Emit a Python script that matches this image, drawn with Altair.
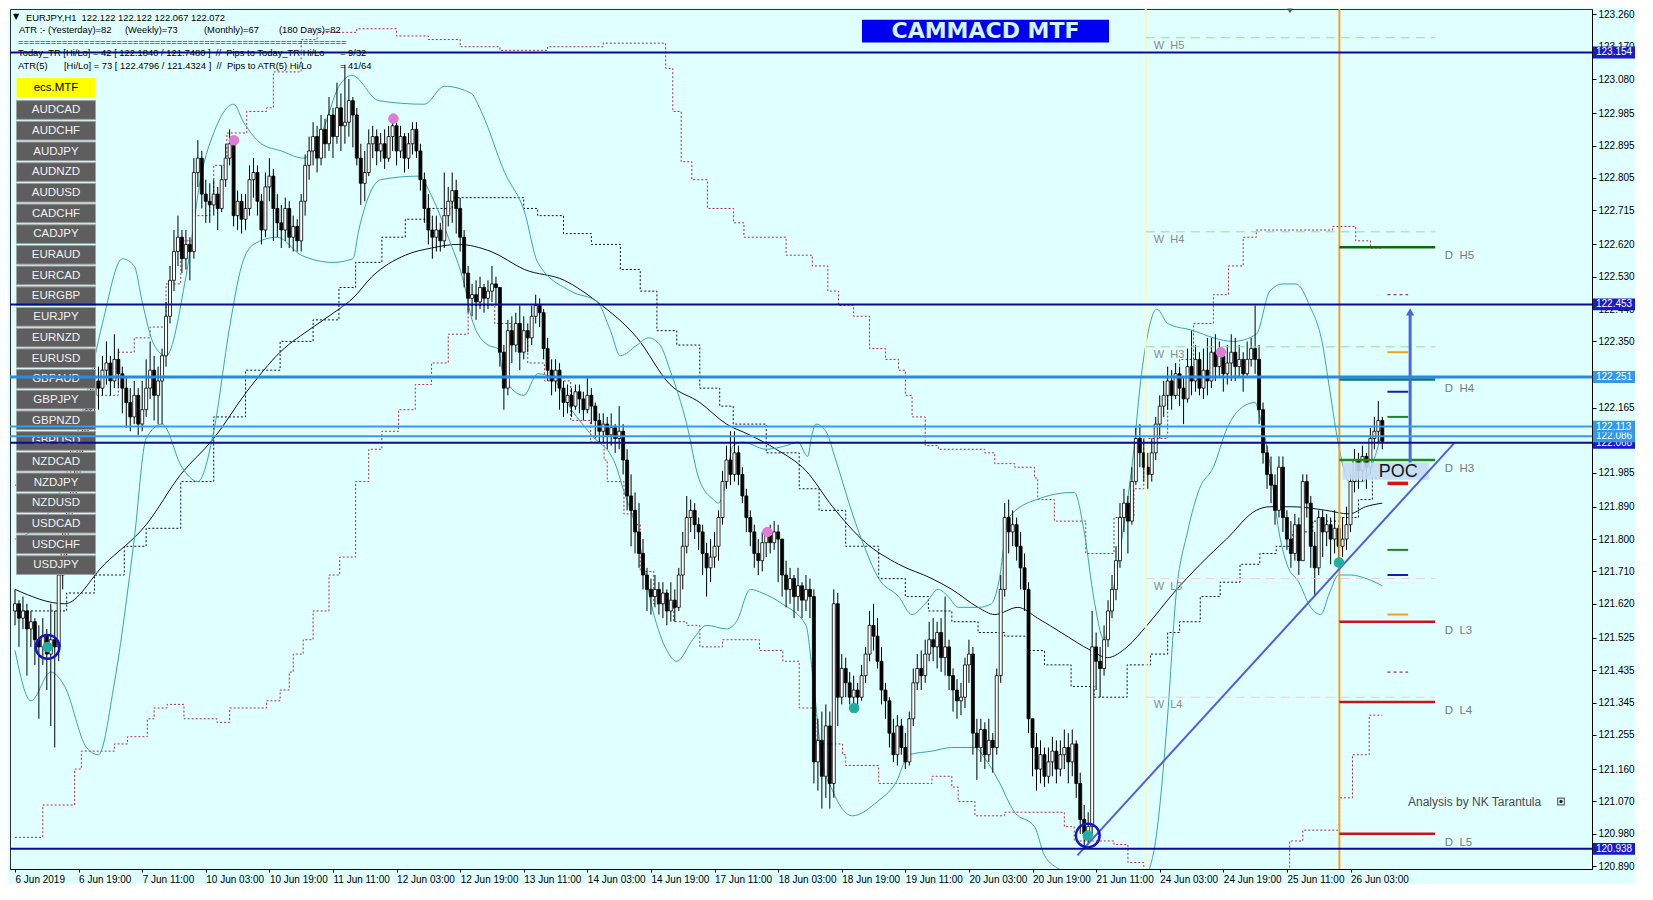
import altair as alt
import pandas as pd

# ---------------------------------------------------------------- layout
W, H = 1582, 860
REF_H = 873.0
XDOM = [0, W / 4.0]
YDOM = [120.882, 123.275]

# ---------------------------------------------------------------- data
x_labels = ["6 Jun 2019", "6 Jun 19:00", "7 Jun 11:00", "10 Jun 03:00", "10 Jun 19:00",
            "11 Jun 11:00", "12 Jun 03:00", "12 Jun 19:00", "13 Jun 11:00", "14 Jun 03:00",
            "14 Jun 19:00", "17 Jun 11:00", "18 Jun 03:00", "18 Jun 19:00", "19 Jun 11:00",
            "20 Jun 03:00", "20 Jun 19:00", "21 Jun 11:00", "24 Jun 03:00", "24 Jun 19:00",
            "25 Jun 11:00", "26 Jun 03:00"]
label_step = 16

y_ticks = [123.260, 123.170, 123.080, 122.985, 122.895, 122.805, 122.715, 122.620, 122.530,
           122.440, 122.350, 122.165, 121.985, 121.890, 121.800, 121.710, 121.620, 121.525,
           121.435, 121.345, 121.255, 121.160, 121.070, 120.980, 120.890]

first_open = 121.60
close = [
    121.62, 121.58, 121.60, 121.55, 121.57, 121.52, 121.50, 121.53, 121.48, 121.52, 121.50, 121.70,
    121.78, 121.85, 121.92, 121.98, 122.05, 122.10, 122.16, 122.20, 122.24, 122.22,
    122.27, 122.29, 122.24, 122.30, 122.26, 122.22, 122.18, 122.14, 122.20, 122.12, 122.16, 122.22, 122.27, 122.20, 122.24,
    122.31, 122.42, 122.52, 122.60, 122.64, 122.58, 122.62, 122.60,
    122.82, 122.86, 122.76, 122.74,
    122.73, 122.76, 122.72,
    122.80, 122.86, 122.90, 122.70,
    122.74, 122.69, 122.72,
    122.80, 122.82, 122.74, 122.66, 122.78, 122.81, 122.72,
    122.68, 122.66, 122.72, 122.64, 122.67, 122.63,
    122.74, 122.84, 122.88,
    122.92, 122.86, 122.94, 122.90, 122.98, 122.92, 123.00, 122.95, 122.96, 123.02, 122.98,
    122.86, 122.79, 122.82,
    122.90, 122.92, 122.88, 122.90, 122.86, 122.92, 122.95,
    122.88, 122.92, 122.86, 122.90, 122.94, 122.88,
    122.80, 122.72, 122.66,
    122.64, 122.66, 122.63,
    122.70, 122.74, 122.77, 122.72,
    122.64, 122.54, 122.47,
    122.48, 122.46, 122.50, 122.47, 122.49, 122.51, 122.50,
    122.32, 122.22,
    122.38, 122.34, 122.40, 122.32, 122.38, 122.36, 122.42, 122.45, 122.43,
    122.33, 122.27, 122.24, 122.27, 122.22, 122.18,
    122.20, 122.17, 122.21, 122.19, 122.16, 122.20, 122.17,
    122.13, 122.10, 122.12, 122.09, 122.11, 122.08, 122.10,
    122.02, 121.92, 121.88, 121.82,
    121.76, 121.70, 121.66,
    121.64, 121.66, 121.62, 121.65, 121.60, 121.63, 121.61,
    121.70, 121.78, 121.86,
    121.88, 121.84, 121.82,
    121.76, 121.72, 121.75, 121.78,
    121.86, 121.96,
    122.02, 121.98, 122.04, 121.98,
    121.92, 121.86, 121.82, 121.76, 121.74, 121.79,
    121.81, 121.79, 121.82, 121.80,
    121.70, 121.66, 121.69, 121.64, 121.67, 121.63, 121.66, 121.64,
    121.18,
    121.24, 121.14, 121.28, 121.12,
    121.62, 121.36,
    121.44, 121.40, 121.36, 121.38, 121.36, 121.42,
    121.48, 121.56, 121.53,
    121.46, 121.38, 121.35, 121.26,
    121.20, 121.28, 121.22, 121.18,
    121.30, 121.40, 121.44, 121.42, 121.48, 121.52, 121.50,
    121.54, 121.47, 121.50, 121.42,
    121.38, 121.35, 121.36, 121.45,
    121.48, 121.26,
    121.22, 121.27, 121.20, 121.24, 121.22,
    121.42, 121.66,
    121.86, 121.82, 121.84,
    121.78, 121.72, 121.66,
    121.30,
    121.22, 121.16, 121.20,
    121.14, 121.18, 121.21, 121.16, 121.20, 121.22, 121.18, 121.23,
    121.12, 121.02, 120.98, 121.00,
    121.50,
    121.46, 121.44,
    121.52, 121.60, 121.66, 121.74,
    121.86, 121.90, 121.85, 121.96,
    122.08, 122.04,
    122.00, 121.98, 122.04,
    122.12, 122.17, 122.20,
    122.24, 122.20, 122.26, 122.22, 122.19,
    122.28, 122.24, 122.30, 122.22, 122.27, 122.24,
    122.32, 122.28, 122.31, 122.26, 122.29, 122.32,
    122.28, 122.30, 122.26, 122.30, 122.33, 122.30,
    122.16, 122.04, 121.98, 121.95,
    121.88, 122.00, 121.86,
    121.80, 121.76, 121.84, 121.74,
    121.96, 121.90,
    121.78, 121.72, 121.86,
    121.82, 121.84, 121.80, 121.83,
    121.78, 121.80, 121.84,
    121.96, 122.02, 121.99, 122.03, 122.00,
    122.08, 122.10, 122.13, 122.072,
]
high = [
    121.66, 121.63, 121.64, 121.62, 121.60, 121.58, 121.56, 121.58, 121.55, 121.62, 121.60, 121.74,
    121.82, 121.90, 121.96, 122.03, 122.09, 122.14, 122.20, 122.25, 122.30, 122.28,
    122.31, 122.35, 122.31, 122.37, 122.33, 122.28, 122.25, 122.22, 122.24, 122.22, 122.24, 122.30, 122.35, 122.31, 122.28,
    122.33, 122.46, 122.56, 122.66, 122.70, 122.66, 122.66, 122.64,
    122.86, 122.91, 122.88, 122.80,
    122.79, 122.80, 122.78,
    122.84, 122.90, 122.94, 122.91,
    122.77, 122.76, 122.76,
    122.84, 122.86, 122.84, 122.76, 122.82, 122.86, 122.83,
    122.76, 122.73, 122.75, 122.74, 122.70, 122.69,
    122.76, 122.87, 122.92,
    122.96, 122.95, 122.98, 122.97, 123.03, 123.00, 123.07, 123.04, 123.12, 123.08, 123.03,
    123.00, 122.90, 122.88,
    122.94, 122.95, 122.94, 122.93, 122.94, 122.95, 122.98,
    122.96, 122.95, 122.93, 122.93, 122.96, 122.96,
    122.90, 122.82, 122.76,
    122.70, 122.70, 122.68,
    122.82, 122.78, 122.82, 122.80,
    122.75, 122.66, 122.56,
    122.51, 122.52, 122.53, 122.51, 122.52, 122.56, 122.53,
    122.50, 122.34,
    122.41, 122.42, 122.43, 122.45, 122.42, 122.40, 122.45, 122.48, 122.47,
    122.44, 122.36, 122.30, 122.30, 122.29, 122.24,
    122.23, 122.22, 122.23, 122.23, 122.21, 122.25, 122.22,
    122.18, 122.15, 122.15, 122.14, 122.15, 122.12, 122.17,
    122.12, 122.05, 121.98, 121.93,
    121.90, 121.80, 121.72,
    121.69, 121.70, 121.68, 121.68, 121.66, 121.68, 121.66,
    121.72, 121.82, 121.92,
    121.91, 121.90, 121.86,
    121.84, 121.79, 121.80, 121.82,
    121.88, 121.99,
    122.06, 122.10, 122.10, 122.06,
    122.00, 121.94, 121.88, 121.84, 121.80, 121.82,
    121.83, 121.84, 121.85, 121.84,
    121.80, 121.74, 121.72, 121.70, 121.72, 121.68, 121.70, 121.69,
    121.66,
    121.30, 121.32, 121.34, 121.32,
    121.66, 121.65,
    121.48, 121.47, 121.43, 121.42, 121.40, 121.45,
    121.50, 121.60, 121.62,
    121.58, 121.50, 121.40, 121.36,
    121.30, 121.31, 121.30, 121.26,
    121.32, 121.44, 121.48, 121.49, 121.52, 121.57, 121.58,
    121.57, 121.58, 121.64, 121.52,
    121.44, 121.41, 121.40, 121.47,
    121.52, 121.50,
    121.30, 121.30, 121.29, 121.30, 121.26,
    121.44, 121.70,
    121.90, 121.91, 121.88,
    121.86, 121.82, 121.76,
    121.68,
    121.30, 121.26, 121.24,
    121.22, 121.22, 121.25, 121.24, 121.24, 121.27, 121.26, 121.27,
    121.24, 121.15, 121.06, 121.04,
    121.60,
    121.54, 121.50,
    121.56, 121.63, 121.70, 121.78,
    121.90, 121.94, 121.92, 122.00,
    122.11, 122.12,
    122.08, 122.04, 122.08,
    122.14, 122.20, 122.24,
    122.28, 122.27, 122.29, 122.28, 122.25,
    122.33, 122.38, 122.34, 122.32, 122.33, 122.36,
    122.36, 122.37, 122.35, 122.33, 122.34, 122.37,
    122.36, 122.34, 122.32, 122.35, 122.36, 122.45,
    122.34, 122.18, 122.06, 122.03,
    121.98, 122.03, 122.03,
    121.88, 121.85, 121.87, 121.86,
    121.98, 121.98,
    121.92, 121.82, 121.88,
    121.88, 121.87, 121.86, 121.88,
    121.84, 121.86, 121.89,
    121.98, 122.05, 122.04, 122.06, 122.04,
    122.11, 122.14, 122.184, 122.14,
]
low = [
    121.56, 121.50, 121.55, 121.42, 121.50, 121.45, 121.30, 121.45, 121.38, 121.28, 121.22, 121.46,
    121.66, 121.74, 121.82, 121.88, 121.94, 122.02, 122.06, 122.12, 122.15, 122.16,
    122.20, 122.23, 122.20, 122.22, 122.22, 122.15, 122.11, 122.10, 122.12, 122.09, 122.10, 122.14, 122.19, 122.13, 122.12,
    122.12, 122.28, 122.40, 122.49, 122.56, 122.54, 122.55, 122.52,
    122.58, 122.78, 122.72, 122.68,
    122.68, 122.70, 122.66,
    122.71, 122.78, 122.84, 122.67,
    122.66, 122.65, 122.66,
    122.70, 122.75, 122.70, 122.62, 122.64, 122.74, 122.63,
    122.64, 122.61, 122.63, 122.61, 122.60, 122.60,
    122.60, 122.70, 122.80,
    122.84, 122.82, 122.84, 122.86, 122.88, 122.86, 122.90, 122.88, 122.90, 122.92, 122.89,
    122.84, 122.73, 122.74,
    122.81, 122.86, 122.84, 122.85, 122.83, 122.85, 122.88,
    122.84, 122.86, 122.82, 122.83, 122.87, 122.86,
    122.77, 122.68, 122.62,
    122.58, 122.60, 122.60,
    122.61, 122.67, 122.68, 122.65,
    122.60, 122.50, 122.43,
    122.42, 122.41, 122.44, 122.43, 122.44, 122.46, 122.45,
    122.28, 122.16,
    122.20, 122.29, 122.32, 122.27, 122.30, 122.32, 122.34, 122.40, 122.39,
    122.30, 122.24, 122.20, 122.21, 122.16, 122.14,
    122.15, 122.14, 122.16, 122.15, 122.13, 122.15, 122.12,
    122.08, 122.07, 122.07, 122.05, 122.06, 122.04, 122.05,
    121.98, 121.88, 121.78, 121.76,
    121.72, 121.66, 121.60,
    121.59, 121.61, 121.59, 121.58, 121.56, 121.57, 121.57,
    121.60, 121.66, 121.76,
    121.82, 121.80, 121.77,
    121.70, 121.64, 121.68, 121.72,
    121.74, 121.84,
    121.94, 121.95, 121.96, 121.95,
    121.90, 121.82, 121.78, 121.72, 121.70, 121.71,
    121.75, 121.76, 121.77, 121.68,
    121.64, 121.61, 121.62, 121.58, 121.60, 121.58, 121.60, 121.58,
    121.12,
    121.10, 121.05, 121.08, 121.05,
    121.08, 121.28,
    121.34, 121.36, 121.34, 121.33, 121.33, 121.35,
    121.40, 121.46, 121.49,
    121.44, 121.34, 121.30, 121.22,
    121.18, 121.17, 121.20, 121.16,
    121.17, 121.28, 121.38, 121.38, 121.40, 121.46, 121.46,
    121.44, 121.43, 121.42, 121.38,
    121.32, 121.30, 121.31, 121.33,
    121.40, 121.20,
    121.13, 121.18, 121.16, 121.18, 121.15,
    121.20, 121.40,
    121.64, 121.76, 121.78,
    121.74, 121.66, 121.60,
    121.26,
    121.14, 121.10, 121.12,
    121.11, 121.12, 121.14, 121.12, 121.14, 121.16, 121.12, 121.14,
    121.08, 120.98, 120.94, 120.95,
    120.98,
    121.38, 121.36,
    121.42, 121.50, 121.58, 121.63,
    121.72, 121.82, 121.76, 121.84,
    121.95, 122.00,
    121.96, 121.94, 121.96,
    122.02, 122.08, 122.14,
    122.16, 122.16, 122.19, 122.17, 122.12,
    122.18, 122.20, 122.21, 122.20, 122.19, 122.20,
    122.22, 122.24, 122.25, 122.21, 122.23, 122.24,
    122.24, 122.25, 122.21, 122.25, 122.28, 122.26,
    122.12, 122.01, 121.94, 121.90,
    121.84, 121.86, 121.82,
    121.77, 121.72, 121.74, 121.70,
    121.74, 121.86,
    121.72, 121.64, 121.70,
    121.75, 121.78, 121.73, 121.76,
    121.748, 121.75, 121.77,
    121.82, 121.93, 121.94, 121.96, 121.94,
    121.98, 122.05, 122.07, 122.05,
]

# indicator traces (bar, price)
bb_upper = [(0, 121.80), (6, 121.84), (12, 121.95), (18, 122.20), (22, 122.40), (27, 122.58), (30, 122.56),
            (32, 122.46), (35, 122.34), (38, 122.31), (43, 122.53), (47, 122.82), (50, 122.93), (55, 123.01),
            (57.5, 122.96), (62, 122.90), (67, 122.88), (72.5, 122.86), (77.5, 122.94), (81.5, 123.06),
            (84.8, 123.09), (91.5, 123.02), (103, 123.01), (108, 123.06), (114.8, 123.04), (117.3, 122.99),
            (123.2, 122.82), (128.2, 122.71), (131.5, 122.57), (139.8, 122.49), (146.5, 122.46),
            (149.8, 122.38), (152.3, 122.31), (156.5, 122.34), (159.4, 122.36), (162.3, 122.34),
            (164.8, 122.27), (169, 122.12), (172, 121.97), (175.7, 121.91), (177, 121.90), (178.5, 121.94),
            (180.7, 122.06), (183, 122.07), (189, 122.05), (194, 122.06), (197, 122.07), (199.4, 122.03),
            (200.5, 122.09), (201.5, 122.12), (204, 122.10), (206.5, 122.02), (210.7, 121.87), (214, 121.77),
            (217.3, 121.69), (222.3, 121.64), (225.7, 121.59), (229, 121.62), (232.3, 121.66), (234.8, 121.64),
            (237.3, 121.61), (242.3, 121.61), (245.7, 121.62), (247.5, 121.68), (250, 121.86), (257, 121.91),
            (266.5, 121.93), (269, 121.82), (271.5, 121.63), (274, 121.52), (276.5, 121.67), (279, 121.84),
            (281.5, 122.05), (283, 122.22), (284.8, 122.36), (287.3, 122.44), (290, 122.40), (296.5, 122.38),
            (301.5, 122.36), (306.5, 122.35), (312.3, 122.37), (315.7, 122.49), (319, 122.51), (322.3, 122.51),
            (325.7, 122.45), (329, 122.34), (330.7, 122.22), (333.2, 122.05), (335.7, 121.96), (339, 121.96),
            (343, 122.06), (344, 122.10)]
bb_lower = [(0, 121.49), (4, 121.35), (9, 121.43), (12.5, 121.39), (18, 121.22), (21, 121.20), (25, 121.40),
            (30, 121.80), (33, 122.08), (37, 122.12), (42, 122.00), (46, 121.96), (50, 122.10), (54, 122.39),
            (57, 122.56), (60, 122.62), (66, 122.64), (72, 122.59), (80, 122.57), (85, 122.58), (86.5, 122.66),
            (92, 122.80), (101.5, 122.81), (105, 122.75), (109, 122.64), (113, 122.51), (115, 122.41),
            (119, 122.34), (121.5, 122.33), (123, 122.25), (128, 122.20), (131.5, 122.26), (135, 122.25),
            (140, 122.16), (145, 122.09), (151, 122.01), (153, 121.94), (156.5, 121.82), (160.5, 121.60),
            (164, 121.49), (166.5, 121.46), (170.5, 121.52), (174, 121.56), (179, 121.55), (181.5, 121.57),
            (185, 121.66), (188, 121.65), (193, 121.62), (199, 121.56), (200.7, 121.42), (203, 121.19),
            (205.7, 121.10), (210.7, 121.03), (217, 121.07), (221.5, 121.12), (225, 121.20), (230.7, 121.21),
            (235.7, 121.22), (241.5, 121.22), (244, 121.19), (247.3, 121.13), (251.5, 121.04), (256.5, 121.00),
            (259, 120.92), (263, 120.88), (268, 120.86), (276, 120.85), (284, 120.86), (286.5, 120.93),
            (290, 121.31), (292, 121.63), (295, 121.82), (298, 121.94), (301.5, 122.00), (305, 122.11),
            (308, 122.16), (312, 122.18), (313, 122.15), (315.7, 122.01), (318, 121.82), (320, 121.73),
            (323, 121.68), (326, 121.61), (328.5, 121.59), (330.7, 121.65), (333, 121.70), (336, 121.70),
            (340, 121.69), (344, 121.67)]
ma_line = [(0, 121.66), (12.5, 121.62), (22.5, 121.73), (33, 121.84), (41.7, 121.98), (50, 122.08),
           (58.3, 122.21), (66.7, 122.32), (75, 122.39), (81.5, 122.44), (85, 122.47), (89.8, 122.53),
           (98.2, 122.59), (104.8, 122.61), (111.5, 122.62), (119.8, 122.60), (128.2, 122.55), (138.2, 122.52),
           (146.5, 122.46), (156.5, 122.36), (164.8, 122.23), (172.3, 122.18), (179, 122.12), (184.8, 122.09),
           (191.5, 122.05), (199, 121.99), (205.7, 121.89), (214, 121.79), (222.3, 121.73), (230.7, 121.69),
           (235.7, 121.66), (242.3, 121.61), (246.5, 121.59), (252.3, 121.61), (257.3, 121.58), (263.2, 121.54),
           (270.7, 121.49), (274.8, 121.47), (279.8, 121.50), (284.8, 121.56), (291.5, 121.65), (298.2, 121.73),
           (304.8, 121.80), (312.3, 121.88), (315.7, 121.89), (321.5, 121.89), (329.8, 121.88), (335.7, 121.87),
           (339.8, 121.89), (344, 121.90)]
mid_steps = [(0, 121.60), (13, 121.65), (20, 121.70), (27.5, 121.78), (33, 121.83), (41.7, 121.96),
             (50, 122.14), (58, 122.27), (66.7, 122.35), (75, 122.41), (81.5, 122.50), (85.7, 122.57),
             (92.3, 122.64), (98.2, 122.69), (104, 122.72), (110, 122.75), (120, 122.75), (128, 122.72),
             (131.5, 122.70), (138, 122.65), (145, 122.62), (152.3, 122.55), (157.3, 122.49), (161.5, 122.38),
             (166.5, 122.34), (172.3, 122.22), (177.3, 122.17), (180.7, 122.12), (189, 122.04), (197.3, 121.94),
             (202.3, 121.88), (209, 121.78), (217.3, 121.69), (224, 121.64), (229.8, 121.60), (235.7, 121.57),
             (242.3, 121.54), (249, 121.53), (254.8, 121.49), (259, 121.45), (265.7, 121.39), (271.5, 121.36),
             (276.5, 121.36), (279.8, 121.45), (285.7, 121.48), (290, 121.54), (293, 121.57), (298.2, 121.64),
             (303.2, 121.68), (308.2, 121.73), (313.2, 121.76), (317.3, 121.78), (321.5, 121.82), (326.5, 121.85),
             (333.2, 121.86), (338, 121.91), (341.5, 121.97), (344, 121.97)]
red_upper = [(0, 121.95), (10, 121.95), (14, 122.05), (20, 122.20), (26, 122.32), (30, 122.36), (34, 122.39),
             (38, 122.51), (41.7, 122.63), (45, 122.70), (49, 122.75), (50, 122.84), (53.3, 122.93), (58.3, 122.99),
             (63.3, 123.00), (65, 123.10), (72, 123.19), (76, 123.21), (86, 123.22), (96, 123.20), (104, 123.19),
             (112, 123.17), (122, 123.16), (134, 123.17), (148, 123.18), (160, 123.18), (163.7, 123.11),
             (165.5, 122.99), (167.6, 122.85), (170.3, 122.80), (174.2, 122.72), (180.8, 122.68), (183.4, 122.64),
             (194, 122.59), (200.6, 122.56), (204.5, 122.49), (207.2, 122.45), (211, 122.42), (215, 122.33),
             (219, 122.30), (222.3, 122.27), (224, 122.20), (225.7, 122.14), (229, 122.06), (232.3, 122.05),
             (244, 122.04), (246.5, 122.01), (251.5, 122.00), (256.5, 121.97), (257.3, 121.91), (261.5, 121.85),
             (269.4, 121.76), (276.5, 121.86), (281.5, 121.94), (284, 122.08), (290, 122.20), (293, 122.30),
             (296.5, 122.40), (301.5, 122.48), (305.3, 122.56), (309, 122.64), (312.3, 122.66), (331.5, 122.67),
             (337.3, 122.63), (341, 122.61), (344, 122.61)]
red_lower = [(0, 120.97), (7, 121.06), (15, 121.16), (16.7, 121.21), (25, 121.23), (28.3, 121.25), (33.3, 121.30),
             (35, 121.33), (38.3, 121.34), (42.5, 121.30), (50.8, 121.29), (54, 121.33), (63.3, 121.35),
             (66.7, 121.38), (69, 121.43), (70, 121.48), (72.5, 121.52), (75, 121.60), (79, 121.70), (81.7, 121.75),
             (85.7, 121.96), (89, 122.05), (92.3, 122.10), (96.5, 122.16), (100.7, 122.23), (104.8, 122.29),
             (109, 122.37), (114, 122.45), (120.7, 122.40), (124.8, 122.36), (129, 122.29), (133.2, 122.24),
             (139.8, 122.13), (144.8, 122.07), (148.2, 122.02), (149, 121.96), (153.2, 121.87), (155.7, 121.84),
             (157.3, 121.71), (160.7, 121.62), (165.7, 121.57), (169, 121.56), (172.3, 121.50), (178, 121.52),
             (187.3, 121.49), (193.2, 121.46), (197.3, 121.33), (201.5, 121.23), (208.2, 121.20), (209, 121.17),
             (217.3, 121.12), (230.7, 121.14), (235.7, 121.11), (237.3, 121.07), (241.5, 121.03), (249, 121.04),
             (264, 121.00), (266.5, 120.96), (276.5, 120.95), (280, 120.90), (284, 120.87), (318, 120.87),
             (320.7, 120.96), (324, 120.99), (333.2, 121.08), (336.5, 121.20), (340.7, 121.31), (344, 121.31)]

# horizontal price levels across the chart
level_vals = [120.938, 122.068, 122.086, 122.113, 122.251, 122.453, 123.154]
level_line_col = ["#0A0A9A", "#0A0A9A", "#3A9AEA", "#3A9AEA", "#2A8AE0", "#0A0A9A", "#0A0A9A"]
level_line_w = [2, 2, 2, 2, 3, 2, 2]
level_box_col = ["#1A1AC8", "#1A1AC8", "#3399E6", "#3399E6", "#3399E6", "#1A1AC8", "#1A1AC8"]

# weekly pivots
w_names = ["W\u00a0\u00a0H5", "W\u00a0\u00a0H4", "W\u00a0\u00a0H3", "W\u00a0\u00a0L3", "W\u00a0\u00a0L4"]
w_vals = [123.195, 122.655, 122.335, 121.69, 121.36]
w_cols = ["#9ADA9A", "#9ADA9A", "#9ADA9A", "#EACFCF", "#EACFCF"]
week_start, level_end = 284.5, 357.3

# daily pivots
d_names = ["D\u00a0\u00a0H5", "D\u00a0\u00a0H4", "D\u00a0\u00a0H3", "D\u00a0\u00a0L3", "D\u00a0\u00a0L4", "D\u00a0\u00a0L5"]
d_vals = [122.612, 122.244, 122.02, 121.57, 121.347, 120.98]
d_cols = ["#0A6A0A", "#0A7A6A", "#1A8A1A", "#C81414", "#C81414", "#C81414"]
day_start = 333.2

short_vals = [122.32, 122.21, 122.14, 121.955, 121.77, 121.70, 121.59]
short_cols = ["#F0A020", "#1020A0", "#208020", "#DD1111", "#208020", "#1020A0", "#F0A020"]
short_w = [2, 2, 2, 3.5, 2, 2, 2]
dash_vals = [121.43, 122.48]
dash_cols = ["#8A3A6A", "#A03A4A"]
short_span = (345.3, 350.5)

pink_bar = [55.1, 95.2, 189.3, 303.4]
pink_val = [122.91, 122.97, 121.82, 122.32]
teal_bar = [8.2, 211.1, 269.9, 333.1]
teal_val = [121.50, 121.33, 120.975, 121.735]
ring_bar = [8.2, 269.9]
ring_val = [121.50, 120.975]

trend_bar = [267.3, 362.1]
trend_val = [120.92, 122.067]
poc_box = (334.0, 355.7, 121.965, 122.013)
arrow_bar, arrow_lo, arrow_hi = 351.0, 122.013, 122.44

buttons = ["AUDCAD", "AUDCHF", "AUDJPY", "AUDNZD", "AUDUSD", "CADCHF", "CADJPY", "EURAUD", "EURCAD",
           "EURGBP", "EURJPY", "EURNZD", "EURUSD", "GBPAUD", "GBPJPY", "GBPNZD", "GBPUSD", "NZDCAD",
           "NZDJPY", "NZDUSD", "USDCAD", "USDCHF", "USDJPY"]

# ---------------------------------------------------------------- scales / axes
xs = alt.Scale(domain=XDOM, nice=False, zero=False)
ys = alt.Scale(domain=YDOM, nice=False, zero=False)

label_expr = "[" + ",".join("'%s'" % s for s in x_labels) + "][round(datum.value / %d)]" % label_step
x_axis = alt.Axis(values=list(range(0, label_step * len(x_labels), label_step)), labelExpr=label_expr,
                  orient="bottom", labelAlign="left", labelFont="Liberation Sans", labelFontSize=10,
                  labelColor="black", tickColor="black", domainColor="black", tickSize=3, labelPadding=2,
                  labelOverlap=False, labelBound=False, labelFlush=False, grid=False, title=None)
y_axis = alt.Axis(values=y_ticks, format=".3f", orient="right", labelFont="Liberation Sans", labelFontSize=10,
                  labelColor="black", tickColor="black", domainColor="black", tickSize=4, labelPadding=2,
                  labelOverlap=False, grid=False, title=None)


def PX(x):
    return x - 4


def PY(y):
    return (y - 4) * H / REF_H


def X(f="bar:Q"):
    return alt.X(f, scale=xs, axis=x_axis)


def Y(f="val:Q"):
    return alt.Y(f, scale=ys, axis=y_axis)


def pts(pairs):
    return pd.DataFrame(pairs, columns=["bar", "val"])


def line(pairs, color, width=1.0, dash=None, interp="monotone"):
    kw = dict(color=color, strokeWidth=width, interpolate=interp, clip=True)
    if dash:
        kw["strokeDash"] = dash
    return alt.Chart(pts(pairs)).mark_line(**kw).encode(x=X(), y=Y())


def ptext(rows, size=9.4, color="black", weight="normal", font="Liberation Sans", align="left"):
    df = pd.DataFrame(rows, columns=["t", "x", "y"])
    df["px"] = df["x"].apply(PX)
    df["py"] = df["y"].apply(PY)
    return alt.Chart(df).mark_text(align=align, baseline="middle", fontSize=size, color=color,
                                   fontWeight=weight, font=font).encode(
        x=alt.X("px:Q", scale=None, axis=None), y=alt.Y("py:Q", scale=None, axis=None), text="t:N")


def prect(rows, fill, stroke=None):
    df = pd.DataFrame(rows, columns=["x1", "x2", "y1", "y2"])
    df["px1"] = df["x1"].apply(PX)
    df["px2"] = df["x2"].apply(PX)
    df["py1"] = df["y1"].apply(PY)
    df["py2"] = df["y2"].apply(PY)
    kw = dict(fill=fill)
    if stroke:
        kw.update(stroke=stroke, strokeWidth=1)
    return alt.Chart(df).mark_rect(**kw).encode(
        x=alt.X("px1:Q", scale=None, axis=None), x2="px2:Q",
        y=alt.Y("py1:Q", scale=None, axis=None), y2="py2:Q")


# ---------------------------------------------------------------- candles
n = min(len(close), len(high), len(low))
opens = [first_open] + close[:n - 1]
rows = []
for i in range(n):
    o, c = opens[i], close[i]
    rows.append(dict(bar=i, open=o, close=c, high=max(high[i], o, c), low=min(low[i], o, c), up=bool(c >= o)))
candles = pd.DataFrame(rows)

wicks = alt.Chart(candles).mark_rule(color="black", strokeWidth=1, clip=True).encode(
    x=X(), y=Y("low:Q"), y2="high:Q")
bodies = alt.Chart(candles).mark_bar(width=3, stroke="black", strokeWidth=0.8, clip=True).encode(
    x=X(), y=Y("open:Q"), y2="close:Q",
    fill=alt.condition("datum.up", alt.value("white"), alt.value("black")))

layers = []
layers.append(line(red_upper, "#A8304A", 1, [2, 2], "step-after"))
layers.append(line(red_lower, "#A8304A", 1, [2, 2], "step-after"))
layers.append(line(mid_steps, "#10103A", 1, [2, 2], "step-after"))
layers.append(line(ma_line, "#101020", 1))
layers.append(line(bb_upper, "#3AA4A4", 1))
layers.append(line(bb_lower, "#3AA4A4", 1))
layers += [wicks, bodies]

# vertical separators
vdf = pd.DataFrame({"bar": [week_start, day_start], "col": ["#FAFAC0", "#F0A22A"]})
layers.append(alt.Chart(vdf).mark_rule(strokeWidth=2).encode(x=X(), color=alt.Color("col:N", scale=None)))

# weekly pivots
wdf = pd.DataFrame({"val": w_vals, "name": w_names, "col": w_cols})
wdf["b0"], wdf["b1"], wdf["bt"] = week_start, level_end, week_start + 2
layers.append(alt.Chart(wdf).mark_rule(strokeDash=[9, 6], strokeWidth=1).encode(
    x=X("b0:Q"), x2="b1:Q", y=Y(), color=alt.Color("col:N", scale=None)))
layers.append(alt.Chart(wdf).mark_text(align="left", baseline="top", dy=2, fontSize=11, color="#8A8A8A",
                                       font="Liberation Sans").encode(x=X("bt:Q"), y=Y(), text="name:N"))

# daily pivots
ddf = pd.DataFrame({"val": d_vals, "name": d_names, "col": d_cols})
ddf["b0"], ddf["b1"], ddf["bt"] = day_start, level_end, 359.7
layers.append(alt.Chart(ddf).mark_rule(strokeWidth=2.5).encode(
    x=X("b0:Q"), x2="b1:Q", y=Y(), color=alt.Color("col:N", scale=None)))
layers.append(alt.Chart(ddf).mark_text(align="left", baseline="top", dy=3, fontSize=11.5, color="#7A7A7A",
                                       font="Liberation Sans").encode(x=X("bt:Q"), y=Y(), text="name:N"))

sdf = pd.DataFrame({"val": short_vals, "col": short_cols, "w": short_w})
sdf["b0"], sdf["b1"] = short_span
layers.append(alt.Chart(sdf).mark_rule().encode(
    x=X("b0:Q"), x2="b1:Q", y=Y(), color=alt.Color("col:N", scale=None),
    strokeWidth=alt.StrokeWidth("w:Q", scale=None)))
dsd = pd.DataFrame({"val": dash_vals, "col": dash_cols})
dsd["b0"], dsd["b1"] = short_span
layers.append(alt.Chart(dsd).mark_rule(strokeDash=[3, 3], strokeWidth=1.2).encode(
    x=X("b0:Q"), x2="b1:Q", y=Y(), color=alt.Color("col:N", scale=None)))

# POC, trend line, arrow
pdf = pd.DataFrame([dict(b0=poc_box[0], b1=poc_box[1], v0=poc_box[2], v1=poc_box[3])])
layers.append(alt.Chart(pdf).mark_rect(color="#C4DCF4", opacity=0.9).encode(
    x=X("b0:Q"), x2="b1:Q", y=Y("v0:Q"), y2="v1:Q"))
tdf = pd.DataFrame({"bar": trend_bar, "val": trend_val})
layers.append(alt.Chart(tdf).mark_line(color="#4F5FE0", strokeWidth=2, clip=True).encode(x=X(), y=Y()))
layers.append(alt.Chart(pd.DataFrame([dict(bar=348.0, val=121.987, t="POC")])).mark_text(
    fontSize=18, color="#151515", font="Liberation Sans").encode(x=X(), y=Y(), text="t:N"))
adf = pd.DataFrame([dict(bar=arrow_bar, lo=arrow_lo, hi=arrow_hi - 0.012)])
layers.append(alt.Chart(adf).mark_rule(color="#4A64E0", strokeWidth=3).encode(x=X(), y=Y("lo:Q"), y2="hi:Q"))
layers.append(alt.Chart(pd.DataFrame([dict(bar=arrow_bar, val=arrow_hi - 0.008)])).mark_point(
    shape="triangle-up", filled=True, size=70, color="#4A64E0", opacity=1).encode(x=X(), y=Y()))

# dots and rings
layers.append(alt.Chart(pd.DataFrame({"bar": pink_bar, "val": pink_val})).mark_circle(
    size=110, color="#E07CD8", opacity=1).encode(x=X(), y=Y()))
layers.append(alt.Chart(pd.DataFrame({"bar": teal_bar, "val": teal_val})).mark_circle(
    size=110, color="#22ADA2", opacity=1).encode(x=X(), y=Y()))
layers.append(alt.Chart(pd.DataFrame({"bar": ring_bar, "val": ring_val})).mark_point(
    shape="circle", size=560, filled=False, stroke="#1414C8", strokeWidth=2.5, opacity=1).encode(x=X(), y=Y()))

# symbol buttons
layers.append(prect([(10.5, 89.5, 74, 94)], "#FFFF00"))
layers.append(ptext([("ecs.MTF", 50, 84.5)], size=11.5, color="black", align="center"))
btn_rows = [(10.5, 89.5, 97 + 21 * k, 116 + 21 * k) for k in range(len(buttons))]
layers.append(prect(btn_rows, "#5E5E5E", stroke="#A0A0A0"))
layers.append(ptext([(b, 50, 106.8 + 21 * k) for k, b in enumerate(buttons)], size=11.5, color="#F2F2F2",
                    align="center"))

# horizontal levels (over buttons)
ldf = pd.DataFrame({"val": level_vals, "col": level_line_col, "w": level_line_w})
layers.append(alt.Chart(ldf).mark_rule().encode(
    y=Y(), color=alt.Color("col:N", scale=None), strokeWidth=alt.StrokeWidth("w:Q", scale=None)))

# header texts
layers.append(ptext([("\u25bc", 7, 12.5)], size=8, font="DejaVu Sans"))
layers.append(ptext([
    ("EURJPY,H1\u00a0\u00a0122.122 122.122 122.067 122.072", 20, 13),
    ("ATR :- (Yesterday)=82", 13, 25),
    ("(Weekly)=73", 119, 25),
    ("(Monthly)=67", 198, 25),
    ("(180 Days)=82", 273, 25),
    ("=" * 60, 12, 37),
    ("Today_TR [Hi/Lo] = 42 [ 122.1840 / 121.7480 ]\u00a0\u00a0//\u00a0\u00a0Pips to Today_TR Hi/Lo", 12, 49),
    ("= 9/32", 334, 49),
    ("ATR(5)", 12, 62),
    ("[Hi/Lo] = 73 [ 122.4796 / 121.4324 ]\u00a0\u00a0//\u00a0\u00a0Pips to ATR(5) Hi/Lo", 58, 62),
    ("= 41/64", 334, 62),
]))

# title box
layers.append(prect([(856, 1103, 15, 38)], "#0000F0"))
layers.append(ptext([("CAMMACD MTF", 979.5, 26.5)], size=22, color="#D4F4FF", weight="bold",
                    font="DejaVu Sans", align="center"))
layers.append(alt.Chart(pd.DataFrame([dict(px=PX(1284), py=PY(6))])).mark_point(
    shape="triangle-down", filled=True, size=30, color="#555555", opacity=1).encode(
    x=alt.X("px:Q", scale=None, axis=None), y=alt.Y("py:Q", scale=None, axis=None)))

# signature
layers.append(ptext([("Analysis by NK Tarantula", 1402, 808.5)], size=12, color="#4A4A4A"))
layers.append(alt.Chart(pd.DataFrame([dict(px=PX(1555), py=PY(808.5))])).mark_point(
    shape="square", size=45, filled=False, stroke="#666666", strokeWidth=1.2, opacity=1).encode(
    x=alt.X("px:Q", scale=None, axis=None), y=alt.Y("py:Q", scale=None, axis=None)))
layers.append(alt.Chart(pd.DataFrame([dict(px=PX(1555), py=PY(808.5))])).mark_circle(
    size=12, color="#222222", opacity=1).encode(
    x=alt.X("px:Q", scale=None, axis=None), y=alt.Y("py:Q", scale=None, axis=None)))

# value boxes on the price axis (ascending so upper boxes overlap lower ones)
for v, c in zip(level_vals, level_box_col):
    bdf = pd.DataFrame([dict(lo=v - 0.0165, hi=v + 0.0165, val=v, lab="%.3f" % v)])
    layers.append(alt.Chart(bdf).mark_rect(color=c).encode(
        x=alt.value(W + 1), x2=alt.value(W + 43), y=Y("lo:Q"), y2="hi:Q"))
    layers.append(alt.Chart(bdf).mark_text(align="left", baseline="middle", fontSize=10, color="white",
                                           font="Liberation Sans").encode(
        x=alt.value(W + 4), y=Y(), text="lab:N"))

chart = alt.layer(*layers).properties(
    width=W, height=H, padding=0, background="#E0FFFF"
).configure_view(fill="#E0FFFF", stroke="#303030", strokeWidth=1)

chart.save("out.html", embed_options={"renderer": "svg", "actions": False})
